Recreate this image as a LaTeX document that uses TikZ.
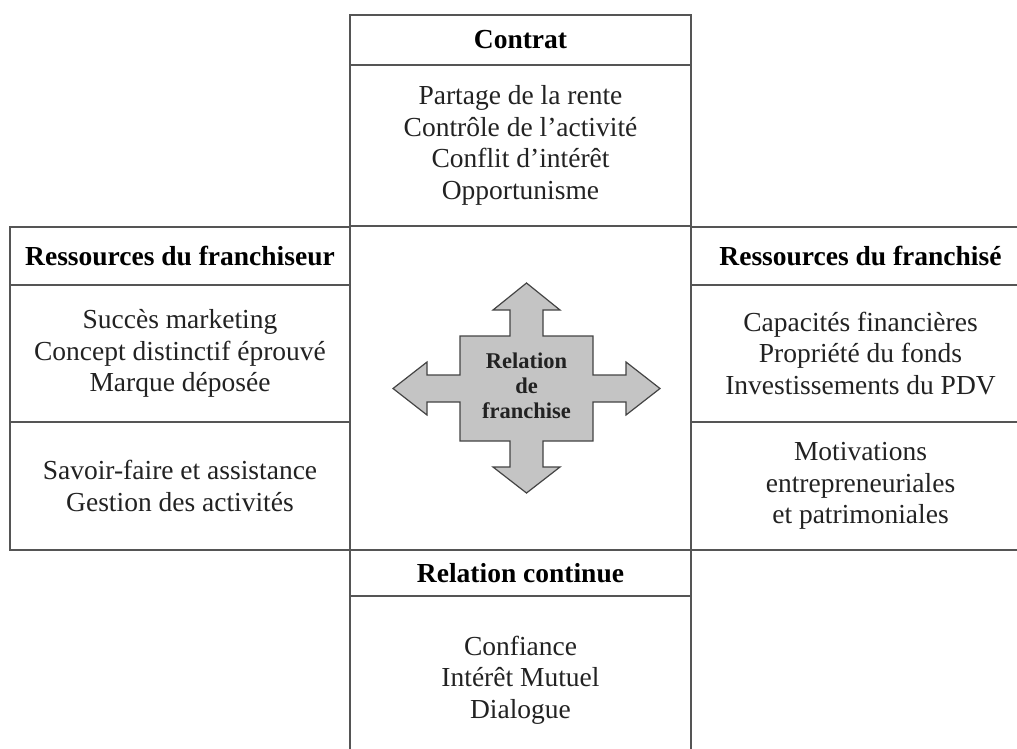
\documentclass[tikz,border=0pt]{standalone}
\usepackage{fontspec}
\setmainfont{Liberation Serif}
\begin{document}
\begin{tikzpicture}[x=1pt,y=-1pt,
  cell/.style={draw=linegray, line width=1.4pt, rectangle, inner sep=0pt, outer sep=0pt,
    align=center, text=textgray, font=\fontsize{27.5}{31.5}\selectfont},
  head/.style={cell, font=\fontsize{27.5}{31.5}\selectfont\bfseries, text=black},
  arrowshape/.style={fill=arrowfill, draw=arrowline, line width=1.2pt, line join=miter}]
\definecolor{linegray}{HTML}{555555}
\definecolor{textgray}{HTML}{222222}
\definecolor{arrowfill}{HTML}{C4C4C4}
\definecolor{arrowline}{HTML}{444444}
\clip (0,0) rectangle (1017,748);
% Contrat
\node[head, minimum width=341pt, minimum height=50pt] (contratH) at (520.5,40) {Contrat};
\node[cell, minimum width=341pt, minimum height=161pt] (contratB) at (520.5,145.5)
  {Partage de la rente\\Contrôle de l’activité\\Conflit d’intérêt\\Opportunisme};
% centre
\node[cell, minimum width=341pt, minimum height=324pt] (centre) at (520.5,388) {};
% left
\node[head, minimum width=340pt, minimum height=58pt] (leftH) at (180,256) {Ressources du franchiseur};
\node[cell, minimum width=340pt, minimum height=137pt] (leftB1) at (180,353.5)
  {Succès marketing\\Concept distinctif éprouvé\\Marque déposée};
\node[cell, minimum width=340pt, minimum height=128pt] (leftB2) at (180,486)
  {Savoir-faire et assistance\\Gestion des activités};
% right
\node[head, minimum width=339pt, minimum height=58pt] (rightH) at (860.5,256) {};
\node[font=\fontsize{27.5}{31.5}\selectfont\bfseries] (rightHT) at (860.5,256) {Ressources du franchisé};
\node[cell, minimum width=339pt, minimum height=137pt] (rightB1) at (860.5,353.5) {};
\node[cell, font=\fontsize{27.5}{31.5}\selectfont] (rightB1T) at (860.5,353.5) [draw=none]
  {Capacités financières\\Propriété du fonds\\Investissements du PDV};
\node[cell, minimum width=339pt, minimum height=128pt] (rightB2) at (860.5,486) {};
\node[cell, draw=none] (rightB2T) at (860.5,486)
  {Motivations\\entrepreneuriales\\et patrimoniales};
% bottom
\node[head, minimum width=341pt, minimum height=46pt] (contH) at (520.5,573) {Relation continue};
\node[cell, minimum width=341pt, minimum height=176pt] (contB) at (520.5,684) {};
\node[cell, draw=none] (contBT) at (520.5,680)
  {Confiance\\Intérêt Mutuel\\Dialogue};
% four-way arrow
\draw[arrowshape] (526.5,283) -- (560,310) -- (543,310) -- (543,336) -- (593,336) -- (593,375)
  -- (626,375) -- (626,362) -- (660,388.5) -- (626,415) -- (626,402) -- (593,402) -- (593,441)
  -- (543,441) -- (543,467) -- (560,467) -- (526.5,493) -- (493,467) -- (510,467) -- (510,441)
  -- (460,441) -- (460,402) -- (427,402) -- (427,415) -- (393,388.5) -- (427,362) -- (427,375)
  -- (460,375) -- (460,336) -- (510,336) -- (510,310) -- (493,310) -- cycle;
\node[align=center, text=textgray, font=\fontsize{22.5}{25}\selectfont\bfseries] (rel) at (526.5,386)
  {Relation\\de\\franchise};
\end{tikzpicture}
\end{document}
